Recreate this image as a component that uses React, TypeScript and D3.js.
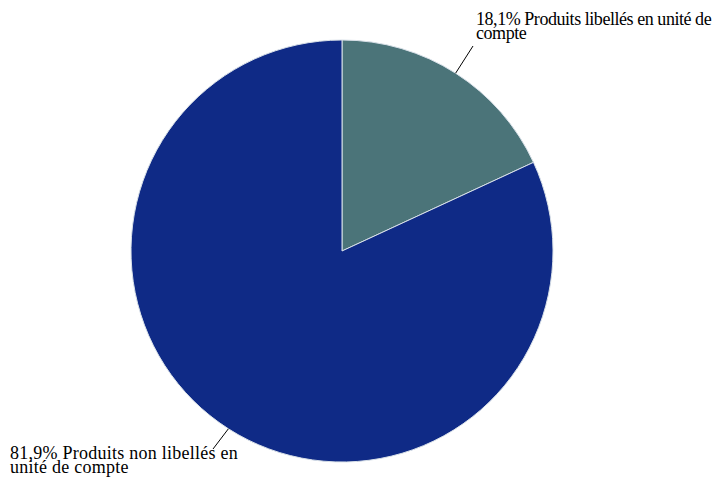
import React from "react";
import * as d3 from "d3";

const labels = ["Produits libellés en unité de compte", "Produits non libellés en unité de compte"];
const values = [18.1, 81.9];
const colors = ["#4b7479", "#0f2a86"];
const labelLines = [
  ["18,1% Produits libellés en unité de", "compte"],
  ["81,9% Produits non libellés en", "unité de compte"],
];

export default function App() {
  const W = 718, H = 482;
  const cx = 342, cy = 251, r = 211;
  const pie = d3.pie<number>().sort(null).value((d) => d);
  const arcs = pie(values);
  const arc = d3.arc<d3.PieArcDatum<number>>().innerRadius(0).outerRadius(r);
  const textPos = [
    { x: 476, y: 25, lx: 473, ly: 46, ls: -0.45 },
    { x: 10, y: 459, lx: 213, ly: 449, ls: 0.25 },
  ];
  return (
    <svg width={W} height={H} style={{ position: "absolute", left: 0, top: 0 }}>
      <g transform={`translate(${cx},${cy})`}>
        {arcs.map((a, i) => (
          <path key={i} d={arc(a) || ""} fill={colors[i]} stroke="#d8e0e8" strokeWidth={1} />
        ))}
      </g>
      {arcs.map((a, i) => {
        const mid = (a.startAngle + a.endAngle) / 2;
        const ex = cx + r * Math.sin(mid);
        const ey = cy - r * Math.cos(mid);
        const p = textPos[i];
        return (
          <g key={i}>
            <line x1={ex} y1={ey} x2={p.lx} y2={p.ly} stroke="#000" strokeWidth={1} />
            <text x={p.x} y={p.y} fontFamily="'Liberation Serif', 'Times New Roman', serif" fontSize={18} letterSpacing={p.ls} fill="#000">
              {labelLines[i].map((t, j) => (
                <tspan key={j} x={p.x} dy={j === 0 ? 0 : 14}>{t}</tspan>
              ))}
            </text>
          </g>
        );
      })}
    </svg>
  );
}
